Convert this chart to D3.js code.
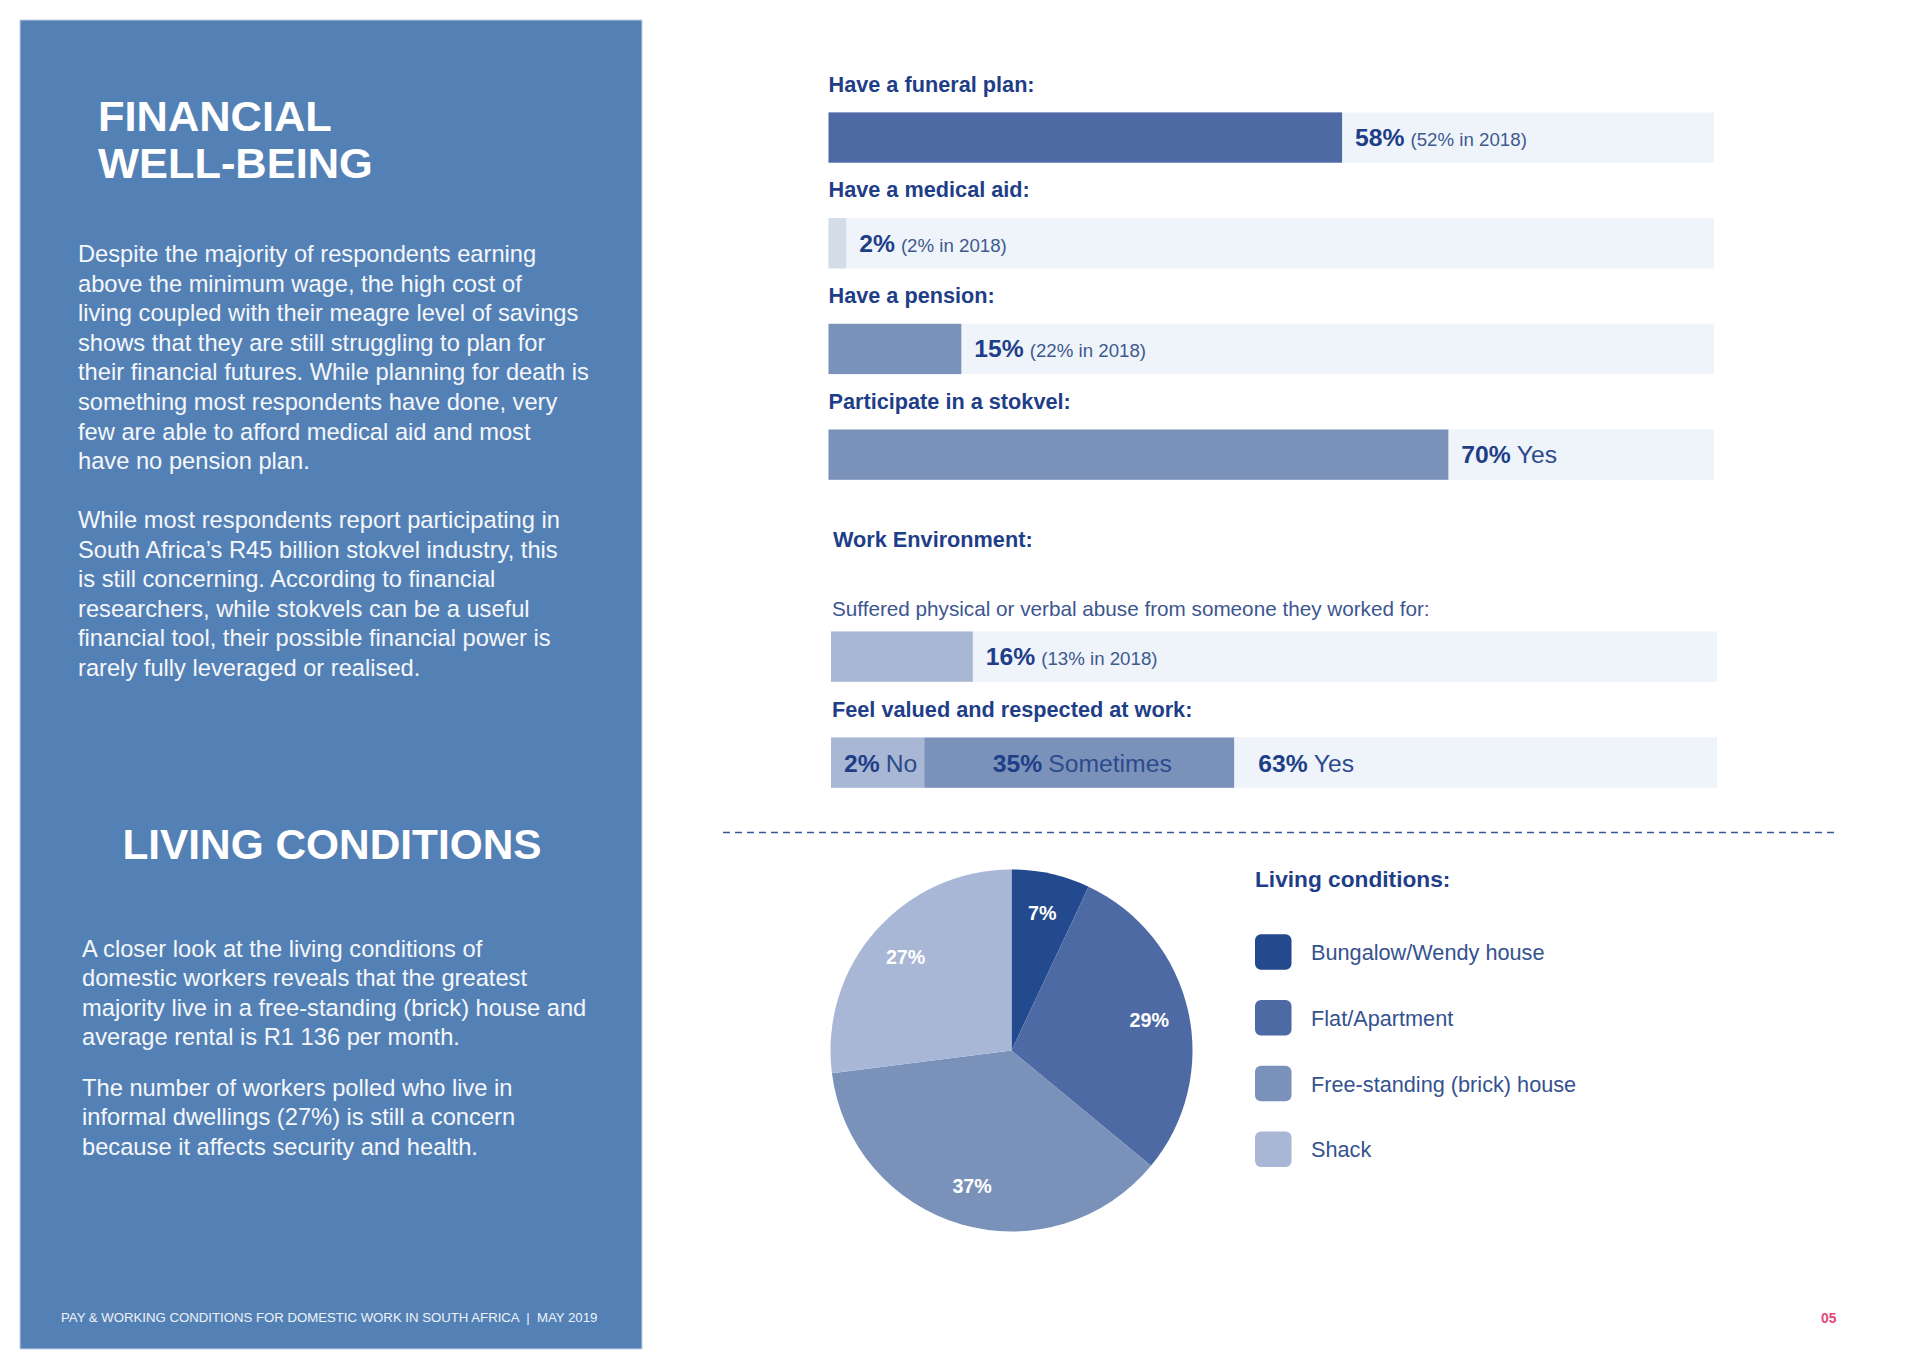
<!DOCTYPE html>
<html>
<head>
<meta charset="utf-8">
<title>Financial well-being and living conditions</title>
<script src="https://d3js.org/d3.v7.min.js"></script>
<style>
    body { margin: 0; background: #ffffff; }
    text { font-family: "Liberation Sans", Arial, Helvetica, sans-serif; }
</style>
</head>
<body>
<script>
// ---- data ----
var barLabels = ["Have a funeral plan:", "Have a medical aid:", "Have a pension:", "Participate in a stokvel:"];
var barValues = [58, 2, 15, 70];
var barNotes = ["(52% in 2018)", "(2% in 2018)", "(22% in 2018)", ""];
var barAnswers = ["", "", "", "Yes"];

var workTitle = "Work Environment:";
var abuseLabel = "Suffered physical or verbal abuse from someone they worked for:";
var abuseValue = 16;
var abuseNote = "(13% in 2018)";

var valuedLabel = "Feel valued and respected at work:";
var valuedCats = ["No", "Sometimes", "Yes"];
var valuedValues = [2, 35, 63];

var livingTitle = "Living conditions:";
var livingCats = ["Bungalow/Wendy house", "Flat/Apartment", "Free-standing (brick) house", "Shack"];
var livingValues = [7, 29, 37, 27];

var para1 = ["Despite the majority of respondents earning", "above the minimum wage, the high cost of",
    "living coupled with their meagre level of savings", "shows that they are still struggling to plan for",
    "their financial futures. While planning for death is", "something most respondents have done, very",
    "few are able to afford medical aid and most", "have no pension plan."];
var para2 = ["While most respondents report participating in", "South Africa\u2019s R45 billion stokvel industry, this",
    "is still concerning. According to financial", "researchers, while stokvels can be a useful",
    "financial tool, their possible financial power is", "rarely fully leveraged or realised."];
var para3 = ["A closer look at the living conditions of", "domestic workers reveals that the greatest",
    "majority live in a free-standing (brick) house and", "average rental is R1 136 per month."];
var para4 = ["The number of workers polled who live in", "informal dwellings (27%) is still a concern",
    "because it affects security and health."];

// ---- palette ----
var navy = "#1f3e88";
var trackFill = "#eef4fa";
var barColors = ["#4e6aa4", "#d3dce9", "#7a92ba", "#7a92ba"];
var valuedColors = ["#a8b7d4", "#7a92ba", trackFill];
var livingColors = ["#234a8e", "#4e6aa4", "#7a92ba", "#a8b7d5"];

window.onload = function(){

    var w = 1920, h = 1369;

    var container = d3.select("body")
        .append("svg")
        .attr("width", w)
        .attr("height", h)
        .attr("class", "container");

    // ---- left panel ----
    var panel = container.append("rect")
        .attr("class", "panel")
        .attr("x", 20)
        .attr("y", 20)
        .attr("width", 622)
        .attr("height", 1329)
        .style("fill", "#5481b5")
        .style("stroke", "#c3d2e6")
        .style("stroke-width", 1);

    var heading = container.append("text")
        .attr("class", "heading")
        .attr("x", 98)
        .attr("y", 131)
        .style("fill", "#ffffff")
        .style("font-weight", "bold")
        .style("font-size", "43.4px");
    heading.selectAll("tspan")
        .data(["FINANCIAL", "WELL-BEING"])
        .enter()
        .append("tspan")
        .attr("x", 98)
        .attr("dy", function(d, i){ return i === 0 ? 0 : 47.3; })
        .text(function(d){ return d; });

    function paragraph(lines, x, y){                          // body copy, one tspan per line
        var p = container.append("text")
            .attr("class", "paragraph")
            .attr("x", x)
            .attr("y", y)
            .style("fill", "#f4f7fb")
            .style("font-size", "23.7px");
        p.selectAll("tspan")
            .data(lines)
            .enter()
            .append("tspan")
            .attr("x", x)
            .attr("dy", function(d, i){ return i === 0 ? 0 : 29.6; })
            .text(function(d){ return d; });
        return p;
    }

    paragraph(para1, 78, 262);
    paragraph(para2, 78, 528);

    var livingHeading = container.append("text")
        .attr("class", "heading")
        .attr("x", 332)
        .attr("y", 859)
        .attr("text-anchor", "middle")
        .style("fill", "#ffffff")
        .style("font-weight", "bold")
        .style("font-size", "42.4px")
        .text("LIVING CONDITIONS");

    paragraph(para3, 82, 956.5);
    paragraph(para4, 82, 1095.5);

    var footer = container.append("text")
        .attr("class", "footer")
        .attr("x", 61)
        .attr("y", 1322)
        .attr("xml:space", "preserve")
        .style("fill", "#eef2f8")
        .style("font-size", "13.2px")
        .text("PAY & WORKING CONDITIONS FOR DOMESTIC WORK IN SOUTH AFRICA  |  MAY 2019");

    var pageNo = container.append("text")
        .attr("class", "pageNo")
        .attr("x", 1821)
        .attr("y", 1323)
        .style("fill", "#e2457c")
        .style("font-size", "13.8px")
        .style("font-weight", "bold")
        .text("05");

    // ---- financial bars ----
    var x = d3.scaleLinear()
        .domain([0, 100])
        .range([828.5, 1714]);

    var y = d3.scaleBand()
        .domain(barLabels)
        .range([91.7, 91.7 + 4 * 105.7]);

    var barData = barLabels.map(function(d, i){
        return {label: d, value: barValues[i], note: barNotes[i], answer: barAnswers[i], color: barColors[i]};
    });

    var rows = container.selectAll(".finRow")
        .data(barData)
        .enter()
        .append("g")
        .attr("class", "finRow");

    rows.append("text")
        .attr("x", x(0))
        .attr("y", function(d){ return y(d.label); })
        .style("fill", navy)
        .style("font-weight", "bold")
        .style("font-size", "21.7px")
        .text(function(d){ return d.label; });

    rows.append("rect")
        .attr("class", "track")
        .attr("x", x(0))
        .attr("y", function(d){ return y(d.label) + 20.7; })
        .attr("width", x(100) - x(0))
        .attr("height", 50.3)
        .style("fill", trackFill);

    rows.append("rect")
        .attr("class", "bar")
        .attr("x", x(0))
        .attr("y", function(d){ return y(d.label) + 20.7; })
        .attr("width", function(d){ return x(d.value) - x(0); })
        .attr("height", 50.3)
        .style("fill", function(d){ return d.color; });

    var valueText = rows.append("text")
        .attr("x", function(d){ return x(d.value) + 13; })
        .attr("y", function(d){ return y(d.label) + 54.2; })
        .style("fill", navy);
    valueText.append("tspan")
        .style("font-weight", "bold")
        .style("font-size", "24.7px")
        .text(function(d){ return d.value + "%"; });
    valueText.append("tspan")
        .attr("dx", 6)
        .style("fill", function(d){ return d.answer ? "#2c4a8c" : "#40598f"; })
        .style("font-size", function(d){ return d.answer ? "24.7px" : "18.7px"; })
        .text(function(d){ return d.answer || d.note; });

    // ---- work environment ----
    var workHeading = container.append("text")
        .attr("x", 833)
        .attr("y", 547)
        .style("fill", navy)
        .style("font-weight", "bold")
        .style("font-size", "21.7px")
        .text(workTitle);

    var xw = d3.scaleLinear()
        .domain([0, 100])
        .range([831, 1717]);

    container.append("text")
        .attr("x", 832)
        .attr("y", 616)
        .style("fill", "#3d5690")
        .style("font-size", "20.7px")
        .text(abuseLabel);

    container.append("rect")
        .attr("x", xw(0))
        .attr("y", 631.5)
        .attr("width", xw(100) - xw(0))
        .attr("height", 50.3)
        .style("fill", trackFill);

    container.append("rect")
        .attr("x", xw(0))
        .attr("y", 631.5)
        .attr("width", xw(abuseValue) - xw(0))
        .attr("height", 50.3)
        .style("fill", "#a8b7d4");

    var abuseText = container.append("text")
        .attr("x", xw(abuseValue) + 13)
        .attr("y", 665)
        .style("fill", navy);
    abuseText.append("tspan")
        .style("font-weight", "bold")
        .style("font-size", "24.7px")
        .text(abuseValue + "%");
    abuseText.append("tspan")
        .attr("dx", 6)
        .style("fill", "#40598f")
        .style("font-size", "18.7px")
        .text(abuseNote);

    container.append("text")
        .attr("x", 832)
        .attr("y", 717)
        .style("fill", navy)
        .style("font-weight", "bold")
        .style("font-size", "21.7px")
        .text(valuedLabel);

    container.append("rect")
        .attr("x", xw(0))
        .attr("y", 737.5)
        .attr("width", xw(100) - xw(0))
        .attr("height", 50.3)
        .style("fill", trackFill);

    var segs = container.selectAll(".seg")
        .data(valuedCats.map(function(d, i){ return {cat: d, value: valuedValues[i], color: valuedColors[i]}; }))
        .enter()
        .append("g")
        .attr("class", "seg");

    var segText = segs.append("text")
        .attr("y", 772)
        .style("fill", navy);
    segText.append("tspan")
        .style("font-weight", "bold")
        .style("font-size", "24.7px")
        .text(function(d){ return d.value + "%"; });
    segText.append("tspan")
        .attr("dx", 6)
        .style("font-size", "24.7px")
        .style("fill", "#2c4a8c")
        .text(function(d){ return d.cat; });

    var cursor = xw(0);                                         // stack segments left to right
    segs.each(function(d, i){
        var g = d3.select(this);
        var tw = g.select("text").node().getComputedTextLength();
        var width = Math.max(xw(d.value) - xw(0), tw + 26);     // keep the label readable inside
        if (i === valuedCats.length - 1) width = xw(100) - cursor;
        g.insert("rect", "text")
            .attr("x", cursor)
            .attr("y", 737.5)
            .attr("width", width)
            .attr("height", 50.3)
            .style("fill", d.color);
        g.select("text")
            .attr("x", i === valuedCats.length - 1 ? cursor + 24 : cursor + (width - tw) / 2);
        cursor += width;
    });

    // ---- divider ----
    container.append("line")
        .attr("x1", 723)
        .attr("x2", 1834)
        .attr("y1", 832.5)
        .attr("y2", 832.5)
        .style("stroke", "#34579a")
        .style("stroke-width", 1.6)
        .style("stroke-dasharray", "7 5");

    // ---- living conditions pie ----
    var pie = d3.pie()
        .sort(null)
        .value(function(d){ return d; });

    var radius = 181;
    var arc = d3.arc().innerRadius(0).outerRadius(radius);
    var labelArc = d3.arc().innerRadius(radius * 0.78).outerRadius(radius * 0.78);

    var pieGroup = container.append("g")
        .attr("class", "pie")
        .attr("transform", "translate(1011.5, 1050.5)");

    var slices = pieGroup.selectAll(".slice")
        .data(pie(livingValues))
        .enter()
        .append("path")
        .attr("class", "slice")
        .attr("d", arc)
        .style("fill", function(d, i){ return livingColors[i]; });

    var pieLabels = pieGroup.selectAll(".pieLabel")
        .data(pie(livingValues))
        .enter()
        .append("text")
        .attr("class", "pieLabel")
        .attr("text-anchor", "middle")
        .attr("transform", function(d){ return "translate(" + labelArc.centroid(d) + ")"; })
        .attr("dy", "0.35em")
        .style("fill", "#ffffff")
        .style("font-weight", "bold")
        .style("font-size", "19.7px")
        .text(function(d){ return d.data + "%"; });

    // ---- legend ----
    container.append("text")
        .attr("x", 1255)
        .attr("y", 886.5)
        .style("fill", navy)
        .style("font-weight", "bold")
        .style("font-size", "22.7px")
        .text(livingTitle);

    var ly = d3.scalePoint()
        .domain(livingCats)
        .range([952, 952 + 3 * 65.8]);

    var legend = container.selectAll(".legendItem")
        .data(livingCats)
        .enter()
        .append("g")
        .attr("class", "legendItem");

    legend.append("rect")
        .attr("x", 1255)
        .attr("y", function(d){ return ly(d) - 17.8; })
        .attr("width", 36.5)
        .attr("height", 35.5)
        .attr("rx", 6)
        .style("fill", function(d, i){ return livingColors[i]; });

    legend.append("text")
        .attr("x", 1311)
        .attr("y", function(d){ return ly(d) + 8; })
        .style("fill", "#34528f")
        .style("font-size", "21.7px")
        .text(function(d){ return d; });

};
</script>
</body>
</html>
